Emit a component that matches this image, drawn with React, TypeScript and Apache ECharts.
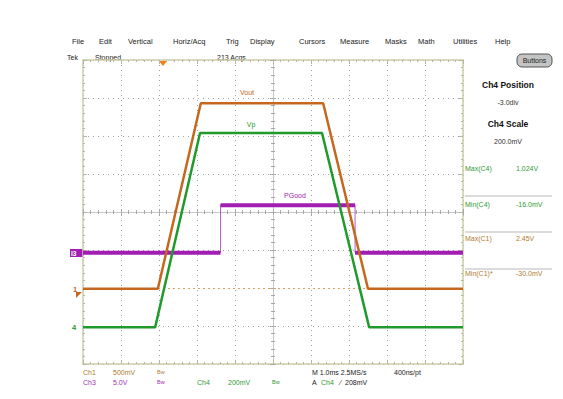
import React, { useEffect, useRef } from 'react';
import * as echarts from 'echarts';

// time in ms (1 ms/div), vertical in divisions
const voutTime = [-5, -3.03, -1.9, 1.32, 2.5, 5];
const voutDiv = [-2.02, -2.02, 2.86, 2.86, -2.02, -2.02];
const vpTime = [-5, -3.1, -1.92, 1.29, 2.53, 5];
const vpDiv = [-3.03, -3.03, 2.08, 2.08, -3.03, -3.03];
const pgTime = [-5, -1.38, -1.38, 2.16, 2.16, 5];
const pgDiv = [-1.07, -1.07, 0.18, 0.18, -1.07, -1.07];
const triggerLevelDiv = -2;

const menuItems = ['File', 'Edit', 'Vertical', 'Horiz/Acq', 'Trig', 'Display', 'Cursors', 'Measure', 'Masks', 'Math', 'Utilities', 'Help'];
const menuX = [72, 99, 128, 173, 226, 250, 299, 340, 385, 418, 453, 495];

const measNames = ['Max(C4)', 'Min(C4)', 'Max(C1)', 'Min(C1)*'];
const measValues = ['1.024V', '-16.0mV', '2.45V', '-30.0mV'];

const ORANGE = '#c4681e';
const GREEN = '#1f9a2b';
const PURPLE = '#a11db3';
const CH1C = '#b07a2e';
const CH3C = '#a030b0';
const CH4C = '#2f9a2f';
const BORDER = '#cdcdaa';
const FONT = 'Liberation Sans, Arial, sans-serif';

const pairs = (xs: number[], ys: number[]) => xs.map((x, i) => [x, ys[i]]);

export default function App() {
  const ref = useRef<HTMLDivElement>(null);
  useEffect(() => {
    if (!ref.current) return;
    const chart = echarts.init(ref.current, null, { renderer: 'svg' });

    const baseAxis = (min: number, max: number) => ({
      type: 'value' as const,
      min,
      max,
      interval: 1,
      axisLabel: { show: false },
      splitLine: { show: false },
    });
    const borderAxis = (min: number, max: number, position: string, withSplit: boolean) => ({
      ...baseAxis(min, max),
      position,
      axisLine: { show: true, onZero: false, lineStyle: { color: BORDER, width: 1.5 } },
      axisTick: { show: true, inside: true, length: 4, lineStyle: { color: '#b8b8a0' } },
      minorTick: { show: true, splitNumber: 5, length: 2, lineStyle: { color: '#b8b8a0' } },
      splitLine: withSplit
        ? { show: true, lineStyle: { color: '#a0a0a0', type: [1, 4], width: 1 } }
        : { show: false },
    });
    const centerAxis = (min: number, max: number, position: string, inside: boolean) => ({
      ...baseAxis(min, max),
      position,
      axisLine: { show: true, onZero: true, lineStyle: { color: '#c4c4c4', width: 1 } },
      axisTick: { show: true, inside, length: 3, lineStyle: { color: '#a8a8a8' } },
      minorTick: { show: true, splitNumber: 5, length: 2, lineStyle: { color: '#a8a8a8' } },
    });

    const pgThick: any[] = [];
    for (let i = 0; i < pgTime.length - 1; i += 2) {
      pgThick.push([pgTime[i], pgDiv[i]], [pgTime[i + 1], pgDiv[i + 1]], [null, null]);
    }

    const txt = (x: number, y: number, text: string, fill = '#222', size = 7.5, extra: any = {}) => ({
      type: 'text',
      x,
      y,
      silent: true,
      style: { text, fill, font: `${extra.weight || 'normal'} ${size}px ${FONT}`, textAlign: extra.align || 'left', textVerticalAlign: 'middle' },
    });

    const graphics: any[] = [];
    menuItems.forEach((m, i) => graphics.push(txt(menuX[i], 41, m, '#222', 7.5)));
    graphics.push(txt(67, 57, 'Tek', '#222', 7));
    graphics.push(txt(95, 57, 'Stopped', '#222', 7));
    graphics.push(txt(217, 57, '213 Acqs', '#222', 7));
    // Buttons
    graphics.push({
      type: 'rect', shape: { x: 517, y: 54, width: 35, height: 13, r: 5 },
      style: { fill: '#c4c4c4', stroke: '#555', lineWidth: 1 },
    });
    graphics.push(txt(534.5, 60.5, 'Buttons', '#222', 7, { align: 'center' }));
    // right panel
    graphics.push(txt(508, 85, 'Ch4 Position', '#111', 8.5, { align: 'center', weight: 'bold' }));
    graphics.push(txt(508, 102, '-3.0div', '#333', 7, { align: 'center' }));
    graphics.push(txt(508, 124, 'Ch4 Scale', '#111', 8.5, { align: 'center', weight: 'bold' }));
    graphics.push(txt(508, 141, '200.0mV', '#333', 7, { align: 'center' }));
    const rowY = [168, 204, 238, 273];
    const rowC = [CH4C, CH4C, CH1C, CH1C];
    measNames.forEach((n, i) => {
      graphics.push(txt(465, rowY[i], n, rowC[i], 7));
      graphics.push(txt(516, rowY[i], measValues[i], rowC[i], 7));
    });
    [196, 232, 269].forEach((y) =>
      graphics.push({ type: 'line', shape: { x1: 465, y1: y, x2: 552, y2: y }, style: { stroke: '#b8b8b8', lineWidth: 1 } })
    );
    // bottom status
    graphics.push(txt(83, 372, 'Ch1', CH1C, 7));
    graphics.push(txt(113, 372, '500mV', CH1C, 7));
    graphics.push(txt(157, 372, 'Bw', CH1C, 5.5));
    graphics.push(txt(83, 382, 'Ch3', CH3C, 7));
    graphics.push(txt(113, 382, '5.0V', CH3C, 7));
    graphics.push(txt(157, 382, 'Bw', CH3C, 5.5));
    graphics.push(txt(197, 382, 'Ch4', CH4C, 7));
    graphics.push(txt(228, 382, '200mV', CH4C, 7));
    graphics.push(txt(272, 382, 'Bw', CH4C, 5.5));
    graphics.push(txt(312, 372, 'M 1.0ms 2.5MS/s', '#222', 7));
    graphics.push(txt(394, 372, '400ns/pt', '#222', 7));
    graphics.push(txt(312, 382, 'A', '#222', 7));
    graphics.push(txt(321, 382, 'Ch4', CH4C, 7));
    graphics.push(txt(340, 382, '⁄  208mV', '#222', 7));
    // trace labels
    graphics.push(txt(247, 92, 'Vout', ORANGE, 7, { align: 'center' }));
    graphics.push(txt(251, 124, 'Vp', GREEN, 7, { align: 'center' }));
    graphics.push(txt(295, 195, 'PGood', PURPLE, 7, { align: 'center' }));
    // channel markers
    graphics.push({ type: 'rect', shape: { x: 70, y: 249, width: 13, height: 8 }, style: { fill: PURPLE } });
    graphics.push(txt(71, 253.5, 'I3', '#fff', 6.5, { weight: 'bold' }));
    graphics.push(txt(73, 289, '1', ORANGE, 7.5, { weight: 'bold' }));
    graphics.push({ type: 'polygon', shape: { points: [[76, 292], [82, 292], [76, 298]] }, style: { fill: ORANGE } });
    graphics.push(txt(72, 327, '4', GREEN, 7.5, { weight: 'bold' }));
    // trigger position marker
    graphics.push({ type: 'polygon', shape: { points: [[159, 61], [167, 61], [163, 66]] }, style: { fill: '#f08010' } });

    chart.setOption({
      animation: false,
      backgroundColor: '#ffffff',
      grid: { left: 83, top: 60, width: 380, height: 304 },
      xAxis: [
        borderAxis(-5, 5, 'bottom', true),
        borderAxis(-5, 5, 'top', false),
        centerAxis(-5, 5, 'bottom', true),
        centerAxis(-5, 5, 'bottom', false),
      ],
      yAxis: [
        borderAxis(-4, 4, 'left', true),
        borderAxis(-4, 4, 'right', false),
        centerAxis(-4, 4, 'left', true),
        centerAxis(-4, 4, 'left', false),
      ],
      graphic: graphics,
      series: [
        {
          type: 'line',
          name: 'PGood edges',
          data: pairs(pgTime, pgDiv),
          showSymbol: false,
          lineStyle: { color: '#b35cc4', width: 1 },
          z: 3,
        },
        {
          type: 'line',
          name: 'PGood',
          data: pgThick,
          connectNulls: false,
          showSymbol: false,
          lineStyle: { color: PURPLE, width: 4 },
          z: 3,
        },
        {
          type: 'line',
          name: 'Vout',
          data: pairs(voutTime, voutDiv),
          showSymbol: false,
          lineStyle: { color: ORANGE, width: 2.5 },
          z: 4,
          markLine: {
            silent: true,
            symbol: 'none',
            label: { show: false },
            lineStyle: { color: '#e0a060', type: [2, 3], width: 1 },
            data: [{ yAxis: triggerLevelDiv }],
            z: 1,
          },
        },
        {
          type: 'line',
          name: 'Vp',
          data: pairs(vpTime, vpDiv),
          showSymbol: false,
          lineStyle: { color: GREEN, width: 2.5 },
          z: 5,
        },
      ],
    });
    return () => chart.dispose();
  }, []);
  return <div ref={ref} style={{ position: 'fixed', left: 0, top: 0, width: 563, height: 399 }} />;
}
